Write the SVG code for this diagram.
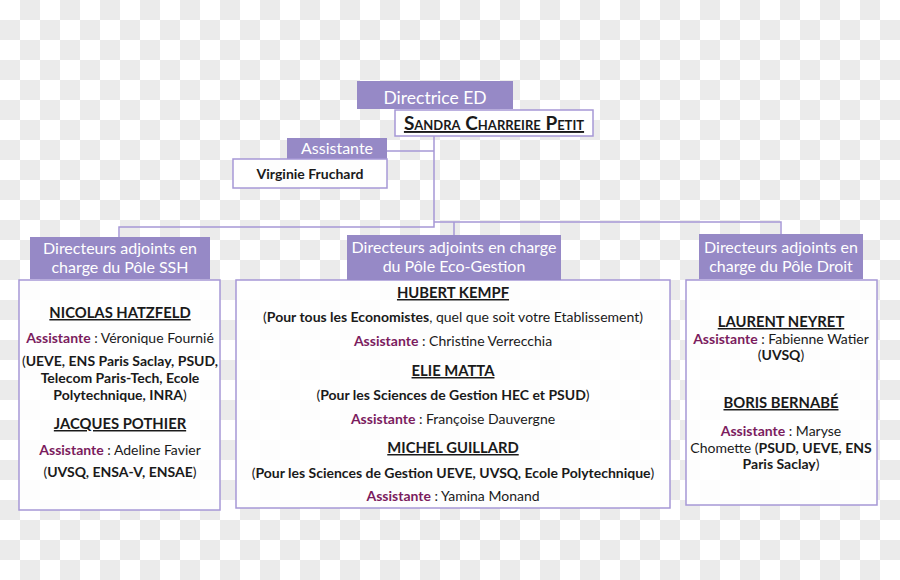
<svg xmlns="http://www.w3.org/2000/svg" width="900" height="580" viewBox="0 0 900 580">
<defs>
<pattern id="chk" width="40" height="40" patternUnits="userSpaceOnUse">
<rect width="40" height="40" fill="#ffffff"/>
<rect x="20" y="0" width="20" height="20" fill="#ebebeb"/>
<rect x="0" y="20" width="20" height="20" fill="#ebebeb"/>
</pattern>
<style>
.hdr{fill:#9689c6}
.box{fill:#ffffff;fill-opacity:0.9;stroke:#a698d6;stroke-width:1.5}
.conn{fill:none;stroke:#a698d6;stroke-width:1.5}
text{font-family:Lato,"Noto Sans",sans-serif;text-anchor:middle;fill:#1a1a1a}
.ht{fill:#ffffff;font-size:16px}
.nm{font-weight:bold;font-size:14.8px;text-decoration:underline}
.tx{font-size:14px}
.b{font-weight:bold}
.as{font-weight:bold;fill:#7b1c5e}
</style>
</defs>
<rect width="900" height="580" fill="url(#chk)"/>
<g id="connectors">
<path class="conn" d="M434 136 V227 H119 V237"/>
<path class="conn" d="M434 222 H781 V234"/>
<path class="conn" d="M454 222 V235"/>
<path class="conn" d="M387 151 H434"/>
</g>
<g id="directrice">
<rect class="hdr" x="357" y="81" width="156" height="28"/>
<text class="ht" x="435" y="104" style="font-size:17.5px">Directrice ED</text>
<rect class="box" x="395" y="110" width="198" height="26" style="fill-opacity:1"/>
<text class="nm" x="494" y="130" style="font-variant:small-caps;font-size:19px">Sandra Charreire Petit</text>
</g>
<g id="assistante">
<rect class="hdr" x="287" y="138" width="100" height="21"/>
<text class="ht" x="337" y="154">Assistante</text>
<rect class="box" x="233" y="159" width="154" height="29"/>
<text class="tx b" x="310" y="179">Virginie Fruchard</text>
</g>
<g id="ssh">
<rect class="box" x="19" y="280" width="201" height="230"/>
<rect class="hdr" x="30" y="237" width="180" height="42"/>
<text class="ht" x="120" y="254">Directeurs adjoints en</text>
<text class="ht" x="120" y="273">charge du Pôle SSH</text>
<text class="nm" x="120" y="318">NICOLAS HATZFELD</text>
<text class="tx" x="120" y="343"><tspan class="as">Assistante</tspan> : Véronique Fournié</text>
<text class="tx" x="120" y="366">(<tspan class="b">UEVE, ENS Paris Saclay, PSUD,</tspan></text>
<text class="tx b" x="120" y="383">Telecom Paris-Tech, Ecole</text>
<text class="tx" x="120" y="400"><tspan class="b">Polytechnique, INRA</tspan>)</text>
<text class="nm" x="120" y="429">JACQUES POTHIER</text>
<text class="tx" x="120" y="455"><tspan class="as">Assistante</tspan> : Adeline Favier</text>
<text class="tx" x="120" y="477">(<tspan class="b">UVSQ, ENSA-V, ENSAE</tspan>)</text>
</g>
<g id="eco">
<rect class="box" x="236" y="280" width="434" height="228"/>
<rect class="hdr" x="347" y="235" width="214" height="45"/>
<text class="ht" x="454" y="253">Directeurs adjoints en charge</text>
<text class="ht" x="454" y="272">du Pôle Eco-Gestion</text>
<text class="nm" x="453" y="298">HUBERT KEMPF</text>
<text class="tx" x="453" y="322">(<tspan class="b">Pour tous les Economistes</tspan>, quel que soit votre Etablissement)</text>
<text class="tx" x="453" y="346"><tspan class="as">Assistante</tspan> : Christine Verrecchia</text>
<text class="nm" x="453" y="376">ELIE MATTA</text>
<text class="tx" x="453" y="400">(<tspan class="b">Pour les Sciences de Gestion HEC et PSUD</tspan>)</text>
<text class="tx" x="453" y="424"><tspan class="as">Assistante</tspan> : Françoise Dauvergne</text>
<text class="nm" x="453" y="453">MICHEL GUILLARD</text>
<text class="tx" x="453" y="478">(<tspan class="b">Pour les Sciences de Gestion UEVE, UVSQ, Ecole Polytechnique</tspan>)</text>
<text class="tx" x="453" y="501"><tspan class="as">Assistante</tspan> : Yamina Monand</text>
</g>
<g id="droit">
<rect class="box" x="686" y="280" width="191" height="225"/>
<rect class="hdr" x="699" y="234" width="164" height="45"/>
<text class="ht" x="781" y="253">Directeurs adjoints en</text>
<text class="ht" x="781" y="272">charge du Pôle Droit</text>
<text class="nm" x="781" y="327">LAURENT NEYRET</text>
<text class="tx" x="781" y="344"><tspan class="as">Assistante</tspan> : Fabienne Watier</text>
<text class="tx" x="781" y="360">(<tspan class="b">UVSQ</tspan>)</text>
<text class="nm" x="781" y="408">BORIS BERNABÉ</text>
<text class="tx" x="781" y="436"><tspan class="as">Assistante</tspan> : Maryse</text>
<text class="tx" x="781" y="453">Chomette (<tspan class="b">PSUD, UEVE, ENS</tspan></text>
<text class="tx" x="781" y="469"><tspan class="b">Paris Saclay</tspan>)</text>
</g>
</svg>
